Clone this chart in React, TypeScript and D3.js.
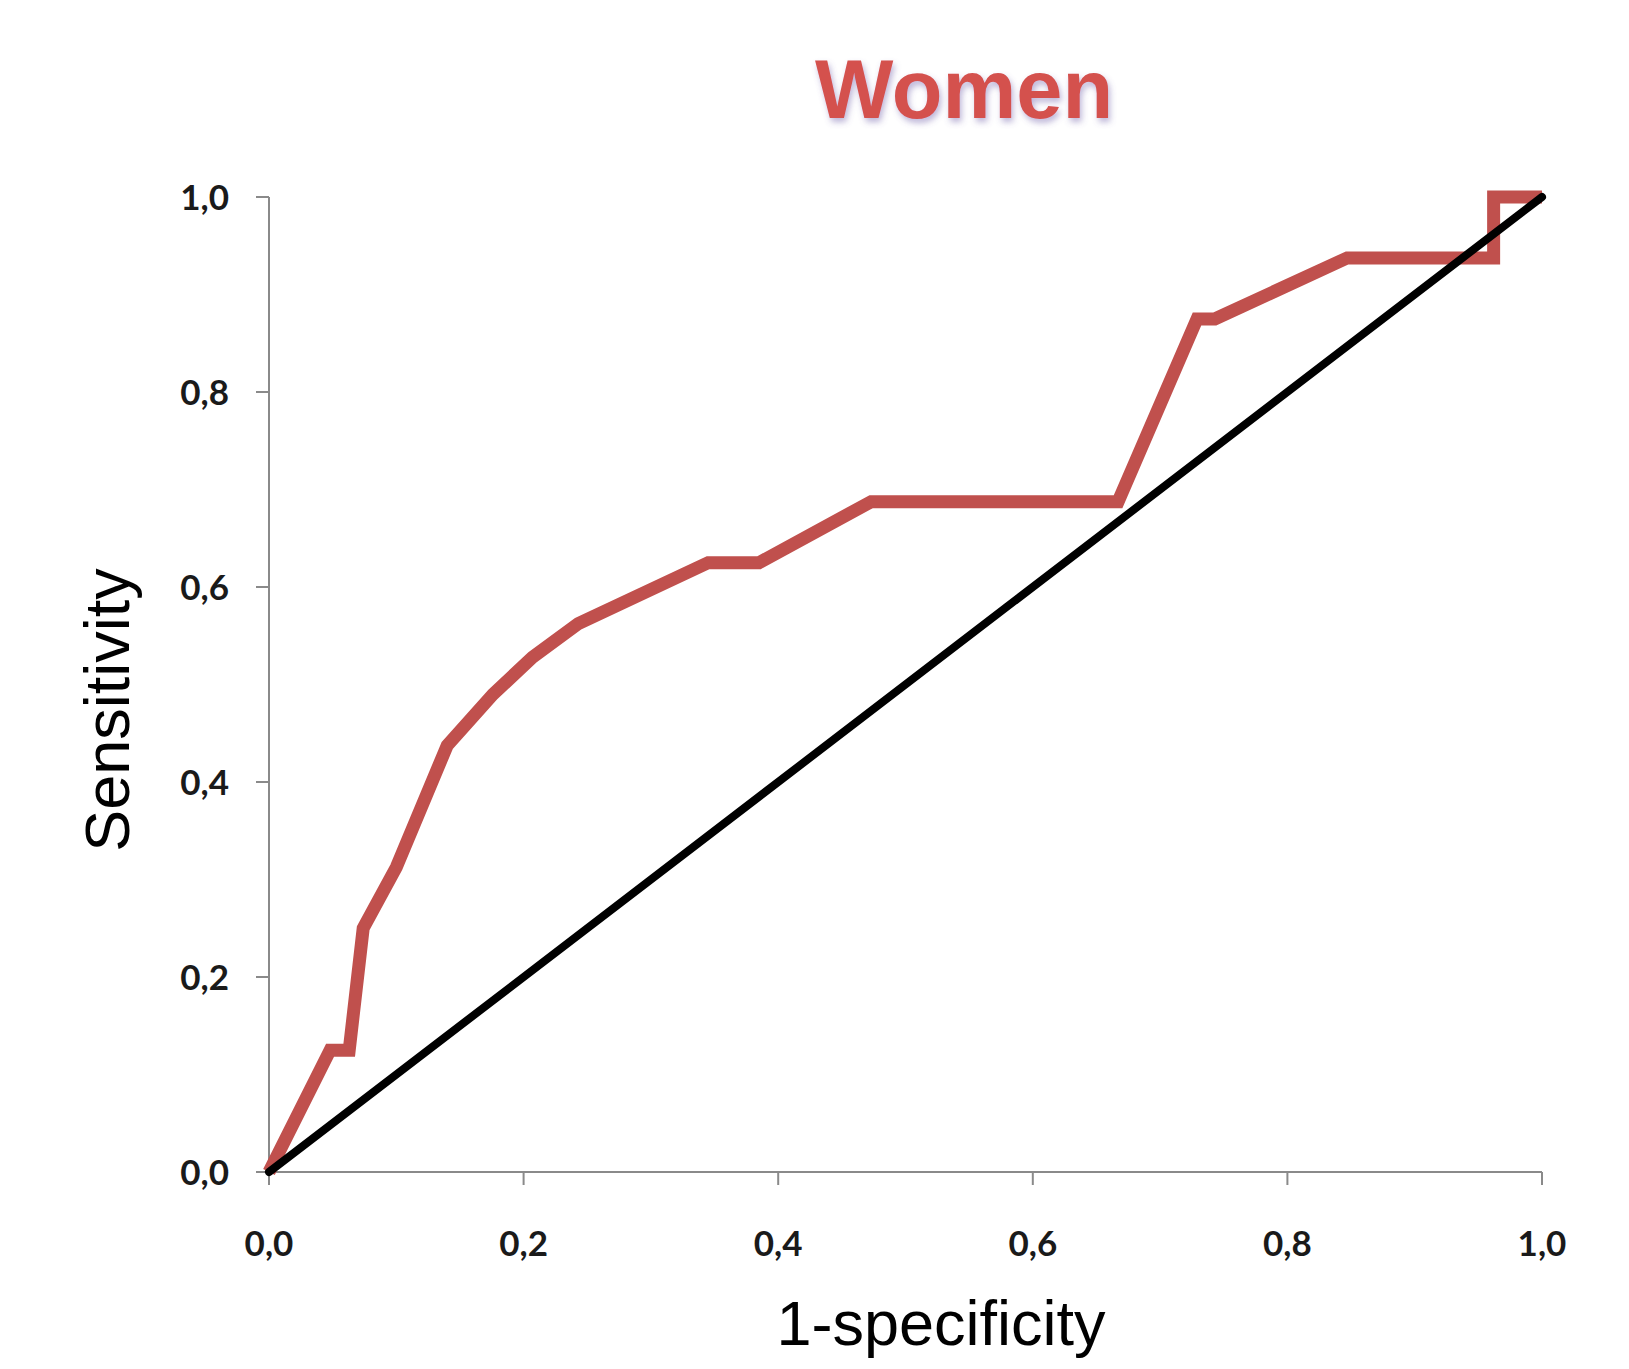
import React from "react";
import * as d3 from "d3";

const W = 1629;
const H = 1369;

const fpr = [0, 0.048, 0.063, 0.074, 0.1, 0.14, 0.176, 0.207, 0.243, 0.345, 0.385, 0.473, 0.667, 0.729, 0.743, 0.847, 0.962, 0.962, 1.0];
const tpr = [0, 0.125, 0.125, 0.25, 0.3125, 0.4375, 0.49, 0.528, 0.5625, 0.625, 0.625, 0.6875, 0.6875, 0.875, 0.875, 0.9375, 0.9375, 1.0, 1.0];
const refX = [0, 1];
const refY = [0, 1];
const ticks = [0, 0.2, 0.4, 0.6, 0.8, 1.0];
const tickLabels = ["0,0", "0,2", "0,4", "0,6", "0,8", "1,0"];

const title = "Women";
const xTitle = "1-specificity";
const yTitle = "Sensitivity";

export default function App() {
  const x = d3.scaleLinear().domain([0, 1]).range([269, 1542]);
  const y = d3.scaleLinear().domain([0, 1]).range([1172, 197]);

  const line = d3
    .line<[number, number]>()
    .x((d) => x(d[0]))
    .y((d) => y(d[1]));

  const rocPts: [number, number][] = fpr.map((v, i) => [v, tpr[i]]);
  const refPts: [number, number][] = refX.map((v, i) => [v, refY[i]]);

  const axisColor = "#8a8a8a";
  const tickFont = "Lato, 'Open Sans', sans-serif";

  return (
    <svg width={W} height={H} style={{ display: "block", position: "absolute", left: 0, top: 0 }}>
      <defs>
        <filter id="tshadow" x="-20%" y="-40%" width="140%" height="180%">
          <feDropShadow dx="2" dy="4" stdDeviation="3" floodColor="#6a5aa8" floodOpacity="0.45" />
        </filter>
      </defs>
      <rect x={0} y={0} width={W} height={H} fill="#ffffff" />

      <text
        x={964}
        y={118}
        textAnchor="middle"
        fontFamily="'Liberation Sans', Arial, sans-serif"
        fontWeight="bold"
        fontSize={83}
        fill="#D4514E"
        filter="url(#tshadow)"
      >
        {title}
      </text>

      {/* axes */}
      <line x1={x(0)} x2={x(0)} y1={y(1)} y2={y(0)} stroke={axisColor} strokeWidth={2} />
      <line x1={x(0)} x2={x(1)} y1={y(0)} y2={y(0)} stroke={axisColor} strokeWidth={2} />

      {ticks.map((t, i) => (
        <g key={"y" + i}>
          <line x1={x(0) - 13} x2={x(0)} y1={y(t)} y2={y(t)} stroke={axisColor} strokeWidth={2} />
          <text
            x={229}
            y={y(t)}
            dy="0.36em"
            textAnchor="end"
            fontFamily={tickFont}
            fontWeight="bold"
            fontSize={35}
            fill="#1a1a1a"
          >
            {tickLabels[i]}
          </text>
        </g>
      ))}
      {ticks.map((t, i) => (
        <g key={"x" + i}>
          <line x1={x(t)} x2={x(t)} y1={y(0)} y2={y(0) + 13} stroke={axisColor} strokeWidth={2} />
          <text
            x={x(t)}
            y={1256}
            textAnchor="middle"
            fontFamily={tickFont}
            fontWeight="bold"
            fontSize={35}
            fill="#1a1a1a"
          >
            {tickLabels[i]}
          </text>
        </g>
      ))}

      {/* ROC curve */}
      <path d={line(rocPts) || ""} fill="none" stroke="#C0504D" strokeWidth={13} strokeLinejoin="miter" strokeLinecap="butt" />
      {/* reference line */}
      <path d={line(refPts) || ""} fill="none" stroke="#000000" strokeWidth={8} strokeLinecap="round" />

      <text
        x={941}
        y={1345}
        textAnchor="middle"
        fontFamily="'Liberation Sans', Arial, sans-serif"
        fontSize={63}
        fill="#000"
      >
        {xTitle}
      </text>
      <text
        transform={`translate(129,710) rotate(-90)`}
        textAnchor="middle"
        fontFamily="'Liberation Sans', Arial, sans-serif"
        fontSize={63}
        fill="#000"
      >
        {yTitle}
      </text>
    </svg>
  );
}
